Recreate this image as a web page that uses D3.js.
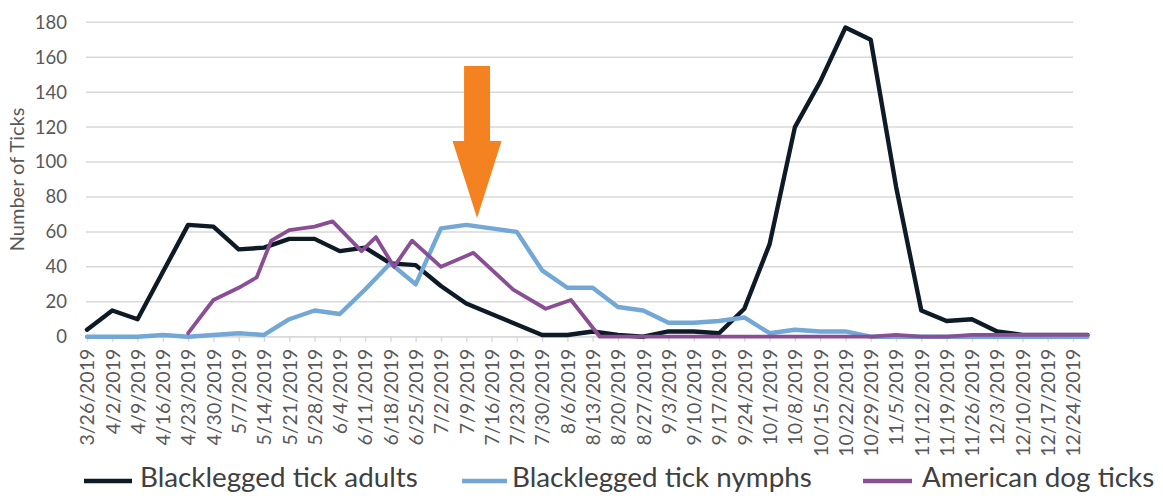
<!DOCTYPE html>
<html>
<head>
<meta charset="utf-8">
<script src="https://cdn.jsdelivr.net/npm/d3@7/dist/d3.min.js"></script>
<style>
  html, body { margin: 0; padding: 0; background: #fff; }
  svg { display: block; }
  text { font-family: Lato, "Open Sans", sans-serif; }
</style>
</head>
<body>
<svg id="chart" width="1163" height="496"></svg>
<script>
// ---- data ----
const tickDates = ["2019-03-26","2019-04-02","2019-04-09","2019-04-16","2019-04-23","2019-04-30","2019-05-07","2019-05-14","2019-05-21","2019-05-28","2019-06-04","2019-06-11","2019-06-18","2019-06-25","2019-07-02","2019-07-09","2019-07-16","2019-07-23","2019-07-30","2019-08-06","2019-08-13","2019-08-20","2019-08-27","2019-09-03","2019-09-10","2019-09-17","2019-09-24","2019-10-01","2019-10-08","2019-10-15","2019-10-22","2019-10-29","2019-11-05","2019-11-12","2019-11-19","2019-11-26","2019-12-03","2019-12-10","2019-12-17","2019-12-24"];
const tickLabels = ["3/26/2019","4/2/2019","4/9/2019","4/16/2019","4/23/2019","4/30/2019","5/7/2019","5/14/2019","5/21/2019","5/28/2019","6/4/2019","6/11/2019","6/18/2019","6/25/2019","7/2/2019","7/9/2019","7/16/2019","7/23/2019","7/30/2019","8/6/2019","8/13/2019","8/20/2019","8/27/2019","9/3/2019","9/10/2019","9/17/2019","9/24/2019","10/1/2019","10/8/2019","10/15/2019","10/22/2019","10/29/2019","11/5/2019","11/12/2019","11/19/2019","11/26/2019","12/3/2019","12/10/2019","12/17/2019","12/24/2019"];

// Blacklegged tick series share these sample dates
const blackleggedDates = ["2019-03-26","2019-04-02","2019-04-09","2019-04-16","2019-04-23","2019-04-30","2019-05-07","2019-05-14","2019-05-21","2019-05-28","2019-06-04","2019-06-11","2019-06-18","2019-06-25","2019-07-02","2019-07-09","2019-07-16","2019-07-23","2019-07-30","2019-08-06","2019-08-13","2019-08-20","2019-08-27","2019-09-03","2019-09-10","2019-09-17","2019-09-24","2019-10-01","2019-10-08","2019-10-15","2019-10-22","2019-10-29","2019-11-05","2019-11-12","2019-11-19","2019-11-26","2019-12-03","2019-12-10","2019-12-17","2019-12-24","2019-12-28"];
const adults = [4,15,10,37,64,63,50,51,56,56,49,51,42,41,29,19,13,7,1,1,3,1,0,3,3,2,16,53,120,146,177,170,86,15,9,10,3,1,1,1,1];
const nymphs = [0,0,0,1,0,1,2,1,10,15,13,27,42,30,62,64,62,60,38,28,28,17,15,8,8,9,11,2,4,3,3,0,0,0,0,0,0,0,0,0,0];

// American dog ticks sampled on their own dates
const dogDates = ["2019-04-23","2019-04-30","2019-05-07","2019-05-12","2019-05-16","2019-05-21","2019-05-28","2019-06-02","2019-06-10","2019-06-14","2019-06-19","2019-06-24","2019-07-02","2019-07-11","2019-07-22","2019-07-31","2019-08-07","2019-08-15","2019-10-29","2019-11-05","2019-11-12","2019-11-19","2019-11-26","2019-12-28"];
const dogTicks = [2,21,28,34,55,61,63,66,49,57,40,55,40,48,27,16,21,0,0,1,0,0,1,1];

const seriesNames = ["Blacklegged tick adults","Blacklegged tick nymphs","American dog ticks"];
const yTicks = [0,20,40,60,80,100,120,140,160,180];

// annotation arrow (date, values)
const arrowDate = "2019-07-12";
const arrowTop = 155, arrowNeck = 112, arrowTip = 68;

// ---- drawing ----
const parse = d3.utcParse("%Y-%m-%d");
const svg = d3.select("#chart");
const colors = ["#0e1a26", "#72a7d6", "#8a4e94"];
const textGray = "#595959";

const x = d3.scaleUtc()
  .domain([parse(tickDates[0]), parse(tickDates[tickDates.length - 1])])
  .range([87, 1073]);
const y = d3.scaleLinear().domain([0, 180]).range([336.7, 22.3]);

// gridlines
svg.append("g").selectAll("line").data(yTicks).join("line")
  .attr("x1", 86).attr("x2", 1073)
  .attr("y1", d => y(d)).attr("y2", d => y(d))
  .attr("stroke", "#d9d9d9").attr("stroke-width", 1.5);

// y axis labels
const yAxis = d3.axisLeft(y).tickValues(yTicks).tickSize(0).tickPadding(0);
const yg = svg.append("g").attr("transform", "translate(67,0)").call(yAxis);
yg.select(".domain").remove();
yg.selectAll("text").attr("font-size", 18.5).attr("fill", textGray)
  .attr("font-family", "Lato, sans-serif");

// x axis ticks + labels
const labelMap = new Map(tickDates.map((d, i) => [d, tickLabels[i]]));
const xAxis = d3.axisBottom(x)
  .tickValues(tickDates.map(parse))
  .tickSize(5)
  .tickFormat(d => labelMap.get(d3.utcFormat("%Y-%m-%d")(d)));
const xg = svg.append("g").attr("transform", `translate(0,${y(0)})`).call(xAxis);
xg.select(".domain").attr("stroke", "#d9d9d9").attr("stroke-width", 1.5)
  .attr("d", `M86,0H1073`);
xg.selectAll(".tick line").attr("stroke", "#d9d9d9").attr("stroke-width", 1.5);
xg.selectAll(".tick text")
  .attr("font-size", 19.5).attr("fill", textGray).attr("font-family", "Lato, sans-serif")
  .attr("transform", "rotate(-90)")
  .attr("text-anchor", "end")
  .attr("x", -12).attr("y", 0).attr("dy", "0.35em");

// y axis title
svg.append("text")
  .attr("transform", `translate(24,${(y(0) + y(180)) / 2}) rotate(-90)`)
  .attr("text-anchor", "middle")
  .attr("font-size", 20).attr("fill", textGray)
  .text("Number of Ticks");

// lines
const line = d3.line().x(d => x(d[0])).y(d => y(d[1]));
const adultPts = blackleggedDates.map((d, i) => [parse(d), adults[i]]);
const nymphPts = blackleggedDates.map((d, i) => [parse(d), nymphs[i]]);
const dogPts = dogDates.map((d, i) => [parse(d), dogTicks[i]]);
[[adultPts, 0, 4.4], [nymphPts, 1, 4.4], [dogPts, 2, 3.8]].forEach(([pts, ci, w]) => {
  svg.append("path").datum(pts)
    .attr("d", line)
    .attr("fill", "none")
    .attr("stroke", colors[ci])
    .attr("stroke-width", w)
    .attr("stroke-linejoin", "round")
    .attr("stroke-linecap", "round");
});

// arrow annotation
const ax = x(parse(arrowDate));
const yTop = y(arrowTop), yNeck = y(arrowNeck), yTip = y(arrowTip);
const shaft = 13, head = 24.5;
svg.append("path")
  .attr("d", `M${ax - shaft},${yTop}L${ax + shaft},${yTop}L${ax + shaft},${yNeck}L${ax + head},${yNeck}L${ax},${yTip}L${ax - head},${yNeck}L${ax - shaft},${yNeck}Z`)
  .attr("fill", "#f58220");

// legend
const legendItems = [
  { name: seriesNames[0], color: colors[0], x1: 84, x2: 132, tx: 140 },
  { name: seriesNames[1], color: colors[1], x1: 462, x2: 507, tx: 512 },
  { name: seriesNames[2], color: colors[2], x1: 863, x2: 912, tx: 922 }
];
const lg = svg.append("g");
legendItems.forEach(it => {
  lg.append("line").attr("x1", it.x1).attr("x2", it.x2)
    .attr("y1", 481).attr("y2", 481)
    .attr("stroke", it.color).attr("stroke-width", 4.5);
  lg.append("text").attr("x", it.tx).attr("y", 487)
    .attr("font-size", 27.8).attr("fill", "#404040")
    .text(it.name);
});
</script>
</body>
</html>
